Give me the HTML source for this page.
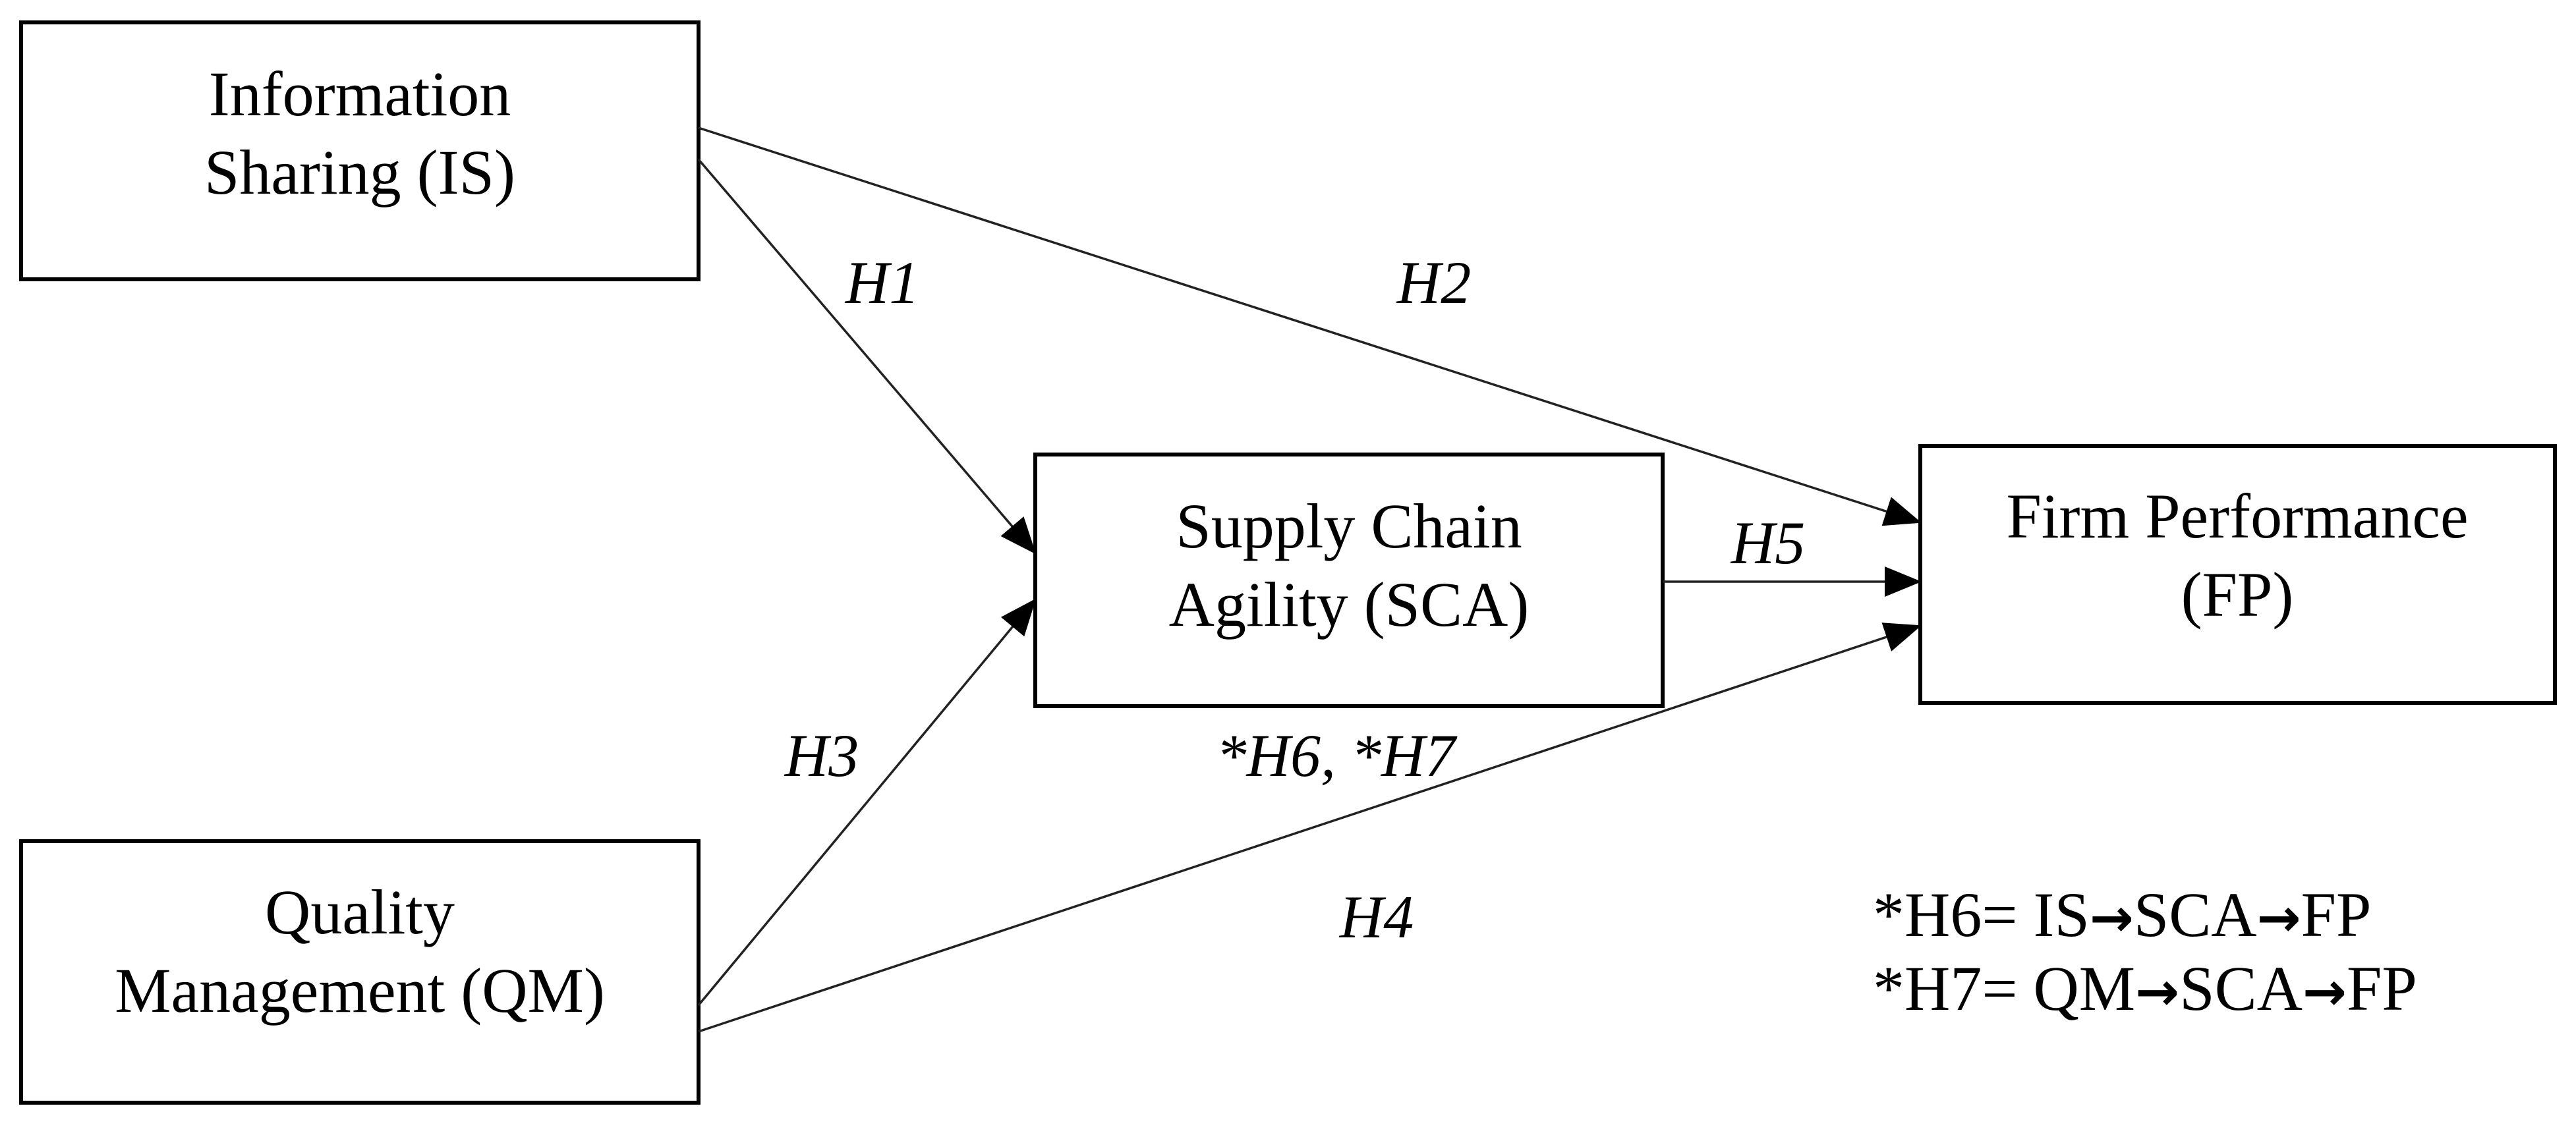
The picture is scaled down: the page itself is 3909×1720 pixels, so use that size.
<!DOCTYPE html>
<html><head><meta charset="utf-8"><style>html,body{margin:0;padding:0;background:#fff}svg{display:block}</style></head>
<body>
<svg width="3909" height="1720" viewBox="0 0 3909 1720" xmlns="http://www.w3.org/2000/svg" font-family="'Liberation Serif', serif">
<defs>
<marker id="a" markerUnits="userSpaceOnUse" markerWidth="56" markerHeight="46" refX="54" refY="23" orient="auto">
<path d="M0,0 L56,23 L0,46 Z" fill="#000"/>
</marker>
</defs>
<rect width="3909" height="1720" fill="#fff"/>
<g fill="none" stroke="#000" stroke-width="6">
<rect x="32" y="34" width="1028" height="390"/>
<rect x="1571" y="690" width="952" height="382"/>
<rect x="2914" y="677" width="963" height="390"/>
<rect x="32" y="1277" width="1028" height="397"/>
</g>
<g stroke="#222" stroke-width="3.5" fill="none">
<line x1="1060" y1="194" x2="2914" y2="793" marker-end="url(#a)"/>
<line x1="1060" y1="242" x2="1571" y2="840" marker-end="url(#a)"/>
<line x1="2523" y1="883" x2="2914" y2="883" marker-end="url(#a)"/>
<line x1="1060" y1="1526" x2="1571" y2="910" marker-end="url(#a)"/>
<line x1="1060" y1="1566" x2="2914" y2="950" marker-end="url(#a)"/>
</g>
<g font-size="96" text-anchor="middle" fill="#000">
<text x="546" y="175">Information</text>
<text x="546" y="294">Sharing (IS)</text>
<text x="2047" y="831">Supply Chain</text>
<text x="2047" y="950">Agility (SCA)</text>
<text x="3395" y="816">Firm Performance</text>
<text x="3395" y="935">(FP)</text>
<text x="546" y="1417">Quality</text>
<text x="546" y="1536">Management (QM)</text>
</g>
<g font-size="92" font-style="italic" text-anchor="middle" fill="#000">
<text x="1339" y="460">H1</text>
<text x="2176" y="460">H2</text>
<text x="2683" y="855">H5</text>
<text x="1247" y="1178">H3</text>
<text x="2027" y="1178">*H6, *H7</text>
<text x="2089" y="1423">H4</text>
</g>
<g font-size="96" fill="#000">
<text x="2842" y="1421">*H6= IS<tspan font-weight="bold" font-family="'DejaVu Sans', sans-serif" font-size="80">→</tspan>SCA<tspan font-weight="bold" font-family="'DejaVu Sans', sans-serif" font-size="80">→</tspan>FP</text>
<text x="2842" y="1533">*H7= QM<tspan font-weight="bold" font-family="'DejaVu Sans', sans-serif" font-size="80">→</tspan>SCA<tspan font-weight="bold" font-family="'DejaVu Sans', sans-serif" font-size="80">→</tspan>FP</text>
</g>
</svg>
</body></html>
